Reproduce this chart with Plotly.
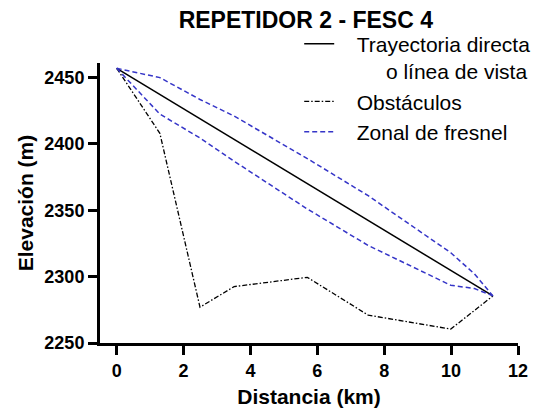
import plotly.graph_objects as go

# Data
direct_x = [0, 11.25]
direct_y = [2457, 2285.5]

obst_x = [0, 1.29, 2.49, 3.51, 5.70, 7.52, 9.99, 11.25]
obst_y = [2457, 2408, 2277, 2292.5, 2299.5, 2271, 2260.5, 2285.5]

fres_x = [0, 1.29, 2.49, 3.51, 5.70, 7.52, 9.99, 10.7, 11.25]
fres_up = [2457, 2450, 2433.5, 2421, 2389, 2361, 2318, 2302, 2285.5]
fres_lo = [2457, 2422.5, 2404.5, 2387, 2351, 2323.5, 2293.5, 2291, 2285.5]

x_ticks = [0, 2, 4, 6, 8, 10, 12]
y_ticks = [2250, 2300, 2350, 2400, 2450]

FONT = "Arial, Liberation Sans, Helvetica, sans-serif"
BLUE = "#3535c8"
SP = "\u00a0" * 3

fig = go.Figure()
fig.add_trace(go.Scatter(
    x=direct_x, y=direct_y, mode="lines",
    line=dict(color="black", width=1.5),
    name=SP + "Trayectoria directa<br>" + SP + "\u00a0" * 5 + "o línea de vista"))
fig.add_trace(go.Scatter(
    x=obst_x, y=obst_y, mode="lines",
    line=dict(color="black", width=1.3, dash="5px,2px,1.5px,2px"),
    name=SP + "Obstáculos"))
fig.add_trace(go.Scatter(
    x=fres_x, y=fres_up, mode="lines",
    line=dict(color=BLUE, width=1.5, dash="5px,3px"),
    name=SP + "Zonal de fresnel", legendgroup="f"))
fig.add_trace(go.Scatter(
    x=fres_x, y=fres_lo, mode="lines",
    line=dict(color=BLUE, width=1.5, dash="5px,3px"),
    name="Zonal de fresnel", legendgroup="f", showlegend=False))

axis_common = dict(
    showline=True, linewidth=3, linecolor="black",
    ticks="outside", ticklen=9, tickwidth=3, tickcolor="black",
    showgrid=False, zeroline=False,
    tickfont=dict(family=FONT, size=18, color="black", weight="bold"),
)

fig.update_layout(
    width=549, height=415,
    margin=dict(l=100, r=31, t=63, b=72, autoexpand=False),
    plot_bgcolor="white", paper_bgcolor="white",
    title=dict(text="<b>REPETIDOR 2 - FESC 4</b>", x=0.557, xanchor="center",
               y=0.952, yanchor="middle",
               font=dict(family=FONT, size=23, color="black")),
    xaxis=dict(range=[-0.5, 12], tickvals=x_ticks,
               title=dict(text="<b>Distancia (km)</b>", standoff=10,
                          font=dict(family=FONT, size=21, color="black")),
               **axis_common),
    yaxis=dict(range=[2250, 2461], tickvals=y_ticks,
               title=dict(text="<b>Elevación (m)</b>", standoff=6,
                          font=dict(family=FONT, size=21, color="black")),
               **axis_common),
    legend=dict(xref="container", yref="container", x=0.545, y=0.943,
                xanchor="left", yanchor="top", bgcolor="rgba(0,0,0,0)",
                font=dict(family=FONT, size=21, color="black"),
                itemwidth=30, valign="top", tracegroupgap=0),
    showlegend=True,
)

fig.write_html("out.html", config={"displayModeBar": False},
               post_script="document.body.style.margin='0';document.body.style.overflow='hidden';")
